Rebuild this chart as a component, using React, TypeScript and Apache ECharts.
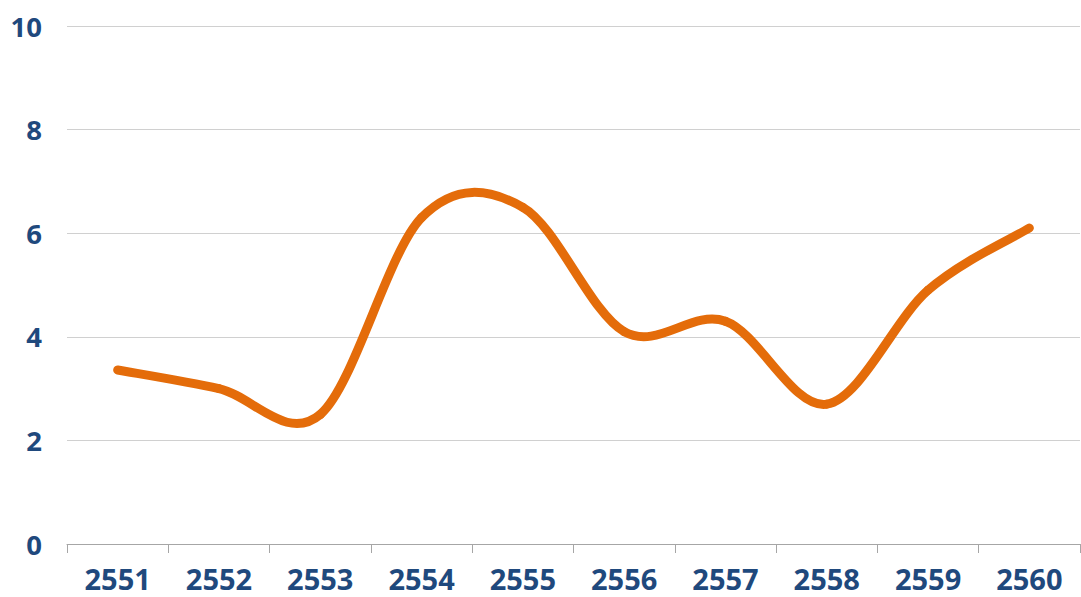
import React, { useEffect, useRef } from "react";
import * as echarts from "echarts";

const years = ["2551", "2552", "2553", "2554", "2555", "2556", "2557", "2558", "2559", "2560"];
const values = [3.36, 3.0, 2.5, 6.3, 6.5, 4.1, 4.3, 2.7, 4.9, 6.1];
const yTicks = [0, 2, 4, 6, 8, 10];

const LINE_COLOR = "#E46C0A";
const LABEL_COLOR = "#1F497D";

export default function App() {
  const ref = useRef<HTMLDivElement>(null);

  useEffect(() => {
    if (!ref.current) return;
    const chart = echarts.init(ref.current, undefined, { renderer: "svg" });
    const n = values.length;
    const t = 1 / 6;

    const option: any = {
      animation: false,
      backgroundColor: "#ffffff",
      grid: { left: 67, right: 1, top: 26, bottom: 53, containLabel: false },
      xAxis: {
        type: "category",
        data: years,
        boundaryGap: true,
        axisLine: { show: true, lineStyle: { color: "#A6A6A6", width: 1 } },
        axisTick: { show: true, length: 9, lineStyle: { color: "#A6A6A6" } },
        axisLabel: {
          color: LABEL_COLOR,
          fontFamily: "Open Sans",
          fontWeight: "bold",
          fontSize: 29,
          margin: 20,
        },
        splitLine: { show: false },
      },
      yAxis: {
        type: "value",
        min: yTicks[0],
        max: yTicks[yTicks.length - 1],
        interval: 2,
        axisLine: { show: false },
        axisTick: { show: false },
        axisLabel: {
          color: LABEL_COLOR,
          fontFamily: "Open Sans",
          fontWeight: "bold",
          fontSize: 27.5,
          margin: 25,
        },
        splitLine: { show: true, lineStyle: { color: "#D0D0D0", width: 1 } },
      },
      series: [
        {
          type: "custom",
          clip: false,
          encode: { x: 0, y: 1 },
          data: values.map((v, i) => [i, v]),
          renderItem: (params: any, api: any) => {
            const i = params.dataIndex;
            if (i >= n - 1) return { type: "group", children: [] };
            const p = (k: number) => api.coord([k, values[k]]);
            const p0 = p(Math.max(i - 1, 0));
            const p1 = p(i);
            const p2 = p(i + 1);
            const p3 = p(Math.min(i + 2, n - 1));
            return {
              type: "bezierCurve",
              shape: {
                x1: p1[0],
                y1: p1[1],
                x2: p2[0],
                y2: p2[1],
                cpx1: p1[0] + (p2[0] - p0[0]) * t,
                cpy1: p1[1] + (p2[1] - p0[1]) * t,
                cpx2: p2[0] - (p3[0] - p1[0]) * t,
                cpy2: p2[1] - (p3[1] - p1[1]) * t,
              },
              style: {
                stroke: LINE_COLOR,
                lineWidth: 9,
                fill: "none",
                lineCap: "round",
              },
            };
          },
        },
      ],
    };
    chart.setOption(option);
    return () => chart.dispose();
  }, []);

  return (
    <div
      ref={ref}
      style={{ position: "fixed", left: 0, top: 0, width: 1081, height: 597, background: "#fff" }}
    />
  );
}
